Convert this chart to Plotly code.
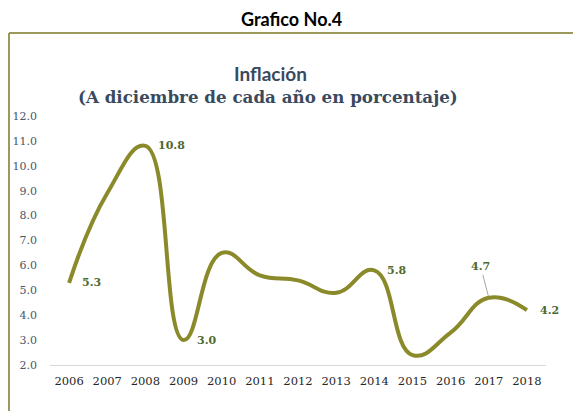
import plotly.graph_objects as go

years = [2006, 2007, 2008, 2009, 2010, 2011, 2012, 2013, 2014, 2015, 2016, 2017, 2018]
inflation = [5.3, 8.9, 10.8, 3.0, 6.5, 5.6, 5.4, 4.9, 5.8, 2.4, 3.3, 4.7, 4.2]
labeled_years = [2006, 2008, 2009, 2014, 2018]
arrow_label_year = 2017
y_ticks = [2.0, 3.0, 4.0, 5.0, 6.0, 7.0, 8.0, 9.0, 10.0, 11.0, 12.0]

W, H = 573, 411
L, R, T, B = 50, 27, 116, 46
pw, ph = W - L - R, H - T - B

def px2x(px):
    return (px - L) / pw

def px2y(py):
    return (H - B - py) / ph

LINE_COLOR = "#8b8a2b"
LABEL_COLOR = "#4f6a2f"
SERIF = "DejaVu Serif"

fig = go.Figure()
fig.add_trace(go.Scatter(
    x=years, y=inflation, mode="lines",
    line=dict(color=LINE_COLOR, width=4, shape="spline", smoothing=1.3),
    hoverinfo="x+y", showlegend=False,
))

annotations = []
for yr, v in zip(years, inflation):
    if yr in labeled_years:
        annotations.append(dict(
            x=yr, y=v, xref="x", yref="y", text=f"<b>{v:.1f}</b>", showarrow=False,
            xanchor="left", yanchor="middle", xshift=11,
            font=dict(family=SERIF, size=11, color=LABEL_COLOR),
        ))
    elif yr == arrow_label_year:
        annotations.append(dict(
            x=yr, y=v, xref="x", yref="y", text=f"<b>{v:.1f}</b>", showarrow=True,
            arrowhead=0, arrowwidth=1, arrowcolor="#a6a6a6", ax=-8, ay=-31,
            standoff=2,
            font=dict(family=SERIF, size=11, color=LABEL_COLOR),
        ))

annotations += [
    dict(x=px2x(291), y=px2y(19), xref="paper", yref="paper", text="<b>Grafico No.4</b>",
         showarrow=False, xanchor="center", yanchor="middle",
         font=dict(family="Lato", size=18, color="#000000")),
    dict(x=px2x(270), y=px2y(73), xref="paper", yref="paper", text="<b>Inflación</b>",
         showarrow=False, xanchor="center", yanchor="middle",
         font=dict(family="Lato", size=19, color="#3a4a5e")),
    dict(x=px2x(268), y=px2y(97), xref="paper", yref="paper",
         text="<b>(A diciembre de cada año en porcentaje)</b>",
         showarrow=False, xanchor="center", yanchor="middle",
         font=dict(family=SERIF, size=16.7, color="#3a4a5e")),
]

shapes = [
    dict(type="line", xref="paper", yref="paper", x0=px2x(9), x1=px2x(W + 5),
         y0=px2y(33), y1=px2y(33), line=dict(color="#9c9a5a", width=2)),
    dict(type="line", xref="paper", yref="paper", x0=px2x(9), x1=px2x(9),
         y0=px2y(33), y1=px2y(H + 5), line=dict(color="#9c9a5a", width=2)),
]

fig.update_layout(
    width=W, height=H,
    margin=dict(l=L, r=R, t=T, b=B),
    paper_bgcolor="white", plot_bgcolor="white",
    annotations=annotations, shapes=shapes,
    xaxis=dict(range=[2005.5, 2018.5], tickvals=years, ticktext=[str(y) for y in years],
               showgrid=False, zeroline=False, showline=True, linecolor="#d9d9d9", linewidth=1,
               ticks="", ticklabelstandoff=5,
               tickfont=dict(family=SERIF, size=11.5, color="#262626"),
               fixedrange=True),
    yaxis=dict(range=[2, 12], tickvals=y_ticks, ticktext=[f"{v:.1f}" for v in y_ticks],
               showgrid=False, zeroline=False, showline=False, ticks="",
               ticklabelstandoff=12,
               tickfont=dict(family=SERIF, size=11, color="#4a5568"), fixedrange=True),
)

fig.write_html("out.html", config={"displayModeBar": False},
               post_script="document.body.style.margin='0';")
